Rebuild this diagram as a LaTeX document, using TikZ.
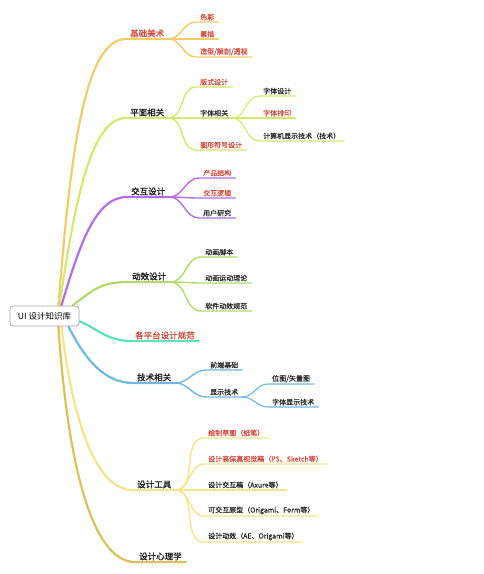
\documentclass[tikz,border=0pt]{standalone}
\usepackage{fontspec}
\newfontfamily\cjk{Noto Sans CJK SC}
\newfontfamily\cjkm{Noto Sans CJK SC}[FakeBold=1.2]
\newfontfamily\cjks{Noto Sans CJK SC}[FakeBold=0.5]
\usetikzlibrary{backgrounds}
\definecolor{redtxt}{HTML}{CF4B3E}
\definecolor{cOrange}{HTML}{F2CC6A}
\definecolor{cLime}{HTML}{D6E86C}
\definecolor{cPurple}{HTML}{B36EE0}
\definecolor{cGreen}{HTML}{B5D86A}
\definecolor{cTeal}{HTML}{5EE0B8}
\definecolor{cBlue}{HTML}{6FB8DE}
\definecolor{cYellow}{HTML}{F2E58A}
\definecolor{cGold}{HTML}{DCC05A}
\begin{document}
\begin{tikzpicture}[x=1pt,y=-1pt,
  rootbox/.style={draw=gray!70, rounded corners=3pt, fill=white, minimum width=69pt, minimum height=20pt, inner sep=1pt, font=\cjk\fontsize{8.5}{10}\selectfont, line width=0.8pt},
  lone/.style={anchor=south west, inner xsep=4pt, inner ysep=1.5pt, font=\cjkm\fontsize{8.5}{10}\selectfont, text=black!90},
  ltwo/.style={anchor=south west, inner xsep=4pt, inner ysep=1.5pt, font=\cjks\fontsize{7}{8}\selectfont, text=black!85},
  hl/.style={text=redtxt},
  b1/.style={line width=2.2pt, line cap=round},
  b2/.style={line width=1.4pt, line cap=round},
  b3/.style={line width=1.1pt, line cap=round},
  sub/.style={out=0, in=180}
]
\useasboundingbox (0,0) rectangle (484,574);

\node[rootbox] (root) at (44.5,316) {UI 设计知识库};

% level 1
\node[lone,hl] (k1) at (126,39) {基础美术};
\node[lone] (k2) at (126,118) {平面相关};
\node[lone] (k3) at (127,197) {交互设计};
\node[lone] (k4) at (128,282) {动效设计};
\node[lone,hl] (k5) at (131,341) {各平台设计规范};
\node[lone] (k6) at (133,383) {技术相关};
\node[lone] (k7) at (133,490) {设计工具};
\node[lone] (k8) at (135,562) {设计心理学};

% level 2
\node[ltwo,hl] (k1a) at (196,22) {色彩};
\node[ltwo,hl] (k1b) at (196,39) {素描};
\node[ltwo,hl] (k1c) at (196,57) {造型/解剖/透视};

\node[ltwo,hl] (k2a) at (196,87) {版式设计};
\node[ltwo] (k2b) at (196,118) {字体相关};
\node[ltwo,hl] (k2c) at (196,150) {图形符号设计};
\node[ltwo] (k2b1) at (259,96) {字体设计};
\node[ltwo,hl] (k2b2) at (259,118) {字体排印};
\node[ltwo] (k2b3) at (259,141) {计算机显示技术（技术）};

\node[ltwo,hl] (k3a) at (199,178) {产品结构};
\node[ltwo,hl] (k3b) at (199,198) {交互逻辑};
\node[ltwo] (k3c) at (199,218) {用户研究};

\node[ltwo] (k4a) at (201,257) {动画脚本};
\node[ltwo] (k4b) at (201,283) {动画运动理论};
\node[ltwo] (k4c) at (201,311) {软件动效规范};

\node[ltwo] (k6a) at (206,370) {前端基础};
\node[ltwo] (k6b) at (206,397) {显示技术};
\node[ltwo] (k6b1) at (268,384) {位图/矢量图};
\node[ltwo] (k6b2) at (268,407) {字体显示技术};

\node[ltwo,hl] (k7a) at (204,438) {绘制草图（纸笔）};
\node[ltwo,hl] (k7b) at (204,464) {设计高保真视觉稿（PS、Sketch等）};
\node[ltwo] (k7c) at (204,490) {设计交互稿（Axure等）};
\node[ltwo] (k7d) at (204,516) {可交互原型（Origami、Form等）};
\node[ltwo] (k7e) at (204,542) {设计动效（AE、Origami等）};

\begin{pgfonlayer}{background}
% root to level 1
\draw[b1,cOrange] ([xshift=-21pt]root.north east) .. controls +(12,-150) and +(-42,0) .. (k1.south west) -- (k1.south east);
\draw[b1,cLime] ([xshift=-20pt]root.north east) .. controls +(15,-100) and +(-36,0) .. (k2.south west) -- (k2.south east);
\draw[b1,cPurple] ([xshift=-18pt]root.north east) .. controls +(18,-60) and +(-32,0) .. (k3.south west) -- (k3.south east);
\draw[b1,cGreen] ([xshift=-7pt]root.north east) .. controls +(20,-15) and +(-28,0) .. (k4.south west) -- (k4.south east);
\draw[b1,cTeal] ([yshift=5pt]root.south east) .. controls +(15,5) and +(-25,0) .. (k5.south west) -- (k5.south east);
\draw[b1,cBlue] ([xshift=-11pt]root.south east) .. controls +(15,30) and +(-30,0) .. (k6.south west) -- (k6.south east);
\draw[b1,cYellow] ([xshift=-18pt]root.south east) .. controls +(12,100) and +(-36,0) .. (k7.south west) -- (k7.south east);
\draw[b1,cGold] ([xshift=-21pt]root.south east) .. controls +(10,150) and +(-40,0) .. (k8.south west) -- (k8.south east);

% level 2
\foreach \c in {k1a,k1b,k1c}
  \draw[b2,cOrange] (k1.south east) to[sub] (\c.south west) -- (\c.south east);
\foreach \c in {k2a,k2b,k2c}
  \draw[b2,cLime] (k2.south east) to[sub] (\c.south west) -- (\c.south east);
\foreach \c in {k2b1,k2b2,k2b3}
  \draw[b3,cLime] (k2b.south east) to[sub] (\c.south west) -- (\c.south east);
\foreach \c in {k3a,k3b,k3c}
  \draw[b2,cPurple] (k3.south east) to[sub] (\c.south west) -- (\c.south east);
\foreach \c in {k4a,k4b,k4c}
  \draw[b2,cGreen] (k4.south east) to[sub] (\c.south west) -- (\c.south east);
\foreach \c in {k6a,k6b}
  \draw[b2,cBlue] (k6.south east) to[sub] (\c.south west) -- (\c.south east);
\foreach \c in {k6b1,k6b2}
  \draw[b3,cBlue] (k6b.south east) to[sub] (\c.south west) -- (\c.south east);
\foreach \c in {k7a,k7b,k7c,k7d,k7e}
  \draw[b2,cYellow] (k7.south east) to[sub] (\c.south west) -- (\c.south east);
\end{pgfonlayer}
\end{tikzpicture}
\end{document}
